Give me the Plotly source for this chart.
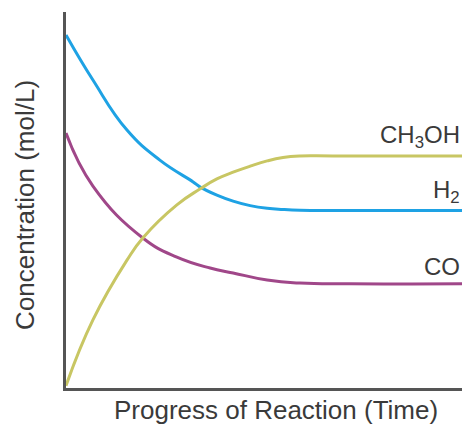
import plotly.graph_objects as go

# Time (arbitrary units, 0..10) and concentration (mol/L, arbitrary 0..10)
h2_t = [0, 0.68, 1.54, 2.37, 3.21, 3.38, 3.81, 4.22, 4.65, 5.08, 5.48, 5.91, 6.74, 10]
h2_c = [9.39, 8.19, 6.86, 6.06, 5.48, 5.35, 5.13, 4.97, 4.85, 4.78, 4.75, 4.73, 4.72, 4.72]

co_t = [0, 0.68, 1.94, 2.80, 3.64, 4.22, 5.08, 5.91, 7.17, 10]
co_c = [6.78, 5.37, 3.99, 3.48, 3.19, 3.06, 2.87, 2.79, 2.77, 2.77]

meoh_t = [0, 0.68, 1.54, 1.94, 2.80, 3.38, 3.81, 4.22, 4.65, 5.08, 5.48, 5.91, 6.74, 10]
meoh_c = [0.06, 1.81, 3.40, 3.99, 4.87, 5.29, 5.56, 5.74, 5.90, 6.04, 6.13, 6.17, 6.17, 6.17]

labels = ["H<sub>2</sub>", "CO", "CH<sub>3</sub>OH"]
colors = ["#1ea2e4", "#a04789", "#c8c663"]

FONT = "Liberation Sans, Arial, sans-serif"
TXT = "#3a3a3a"
FS = 26

fig = go.Figure()
for t, c, col in [(h2_t, h2_c, colors[0]), (co_t, co_c, colors[1]), (meoh_t, meoh_c, colors[2])]:
    fig.add_trace(go.Scatter(x=t, y=c, mode="lines",
                             line=dict(color=col, width=3, shape="spline", smoothing=1.3),
                             hoverinfo="skip", showlegend=False))

ann = []
for lab, yv in [(labels[0], h2_c[-1]), (labels[1], co_c[-1]), (labels[2], meoh_c[-1])]:
    ann.append(dict(x=10, y=yv, xref="x", yref="y", text=lab, showarrow=False,
                    xanchor="right", yanchor="bottom", yshift=2,
                    font=dict(family=FONT, size=24, color=TXT)))
ann.append(dict(x=0.53, y=0, xref="paper", yref="paper", text="Progress of Reaction (Time)",
                showarrow=False, xanchor="center", yanchor="top", yshift=-5,
                font=dict(family=FONT, size=FS, color=TXT)))
ann.append(dict(x=0, y=0.487, xref="paper", yref="paper", text="Concentration (mol/L)",
                showarrow=False, xanchor="center", yanchor="middle", xshift=-41, textangle=-90,
                font=dict(family=FONT, size=FS, color=TXT)))

fig.update_layout(
    width=468, height=425,
    margin=dict(l=66, r=6, t=12, b=37),
    paper_bgcolor="white", plot_bgcolor="white",
    annotations=ann,
    xaxis=dict(range=[0, 10], showgrid=False, zeroline=False, showticklabels=False, ticks="",
               showline=True, linecolor="#555555", linewidth=3),
    yaxis=dict(range=[0, 10], showgrid=False, zeroline=False, showticklabels=False, ticks="",
               showline=True, linecolor="#555555", linewidth=3),
)
fig.write_html("out.html", config={"displayModeBar": False},
               post_script="document.body.style.margin='0px';")
